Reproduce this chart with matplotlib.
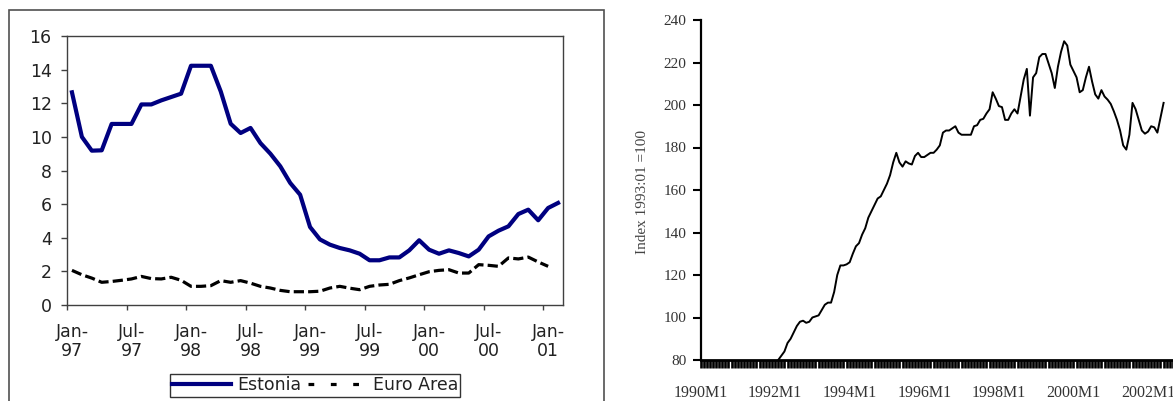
import numpy as np
import matplotlib
matplotlib.use("Agg")
import matplotlib.pyplot as plt
from matplotlib.patches import Rectangle
from matplotlib.lines import Line2D

# left panel: inflation, monthly Jan-97 .. Feb-01
estonia = [12.65, 10.0, 9.18, 9.2, 10.77, 10.77, 10.77, 11.93, 11.93, 12.17,
           12.37, 12.57, 14.23, 14.23, 14.23, 12.7, 10.78, 10.23, 10.53, 9.63,
           9.0, 8.25, 7.26, 6.56, 4.64, 3.9, 3.59, 3.39, 3.25, 3.05,
           2.66, 2.66, 2.83, 2.83, 3.25, 3.85, 3.29, 3.05, 3.25, 3.09,
           2.89, 3.29, 4.08, 4.42, 4.68, 5.41, 5.67, 5.04, 5.77, 6.07]
euro_area = [2.06, 1.8, 1.6, 1.35, 1.4, 1.47, 1.55, 1.7, 1.57, 1.55,
             1.65, 1.47, 1.11, 1.11, 1.15, 1.45, 1.35, 1.45, 1.3, 1.11,
             1.01, 0.87, 0.79, 0.79, 0.79, 0.82, 1.01, 1.11, 1.0, 0.91,
             1.11, 1.19, 1.23, 1.45, 1.61, 1.8, 1.98, 2.06, 2.1, 1.9,
             1.9, 2.4, 2.36, 2.3, 2.8, 2.74, 2.85, 2.56, 2.3]
n_months = 50
left_labels = ["Jan-\n97", "Jul-\n97", "Jan-\n98", "Jul-\n98", "Jan-\n99",
               "Jul-\n99", "Jan-\n00", "Jul-\n00", "Jan-\n01"]

# right panel: index 1993:01=100, monthly from 1992M2
index_start = 25  # months after 1990M1
index_values = [80, 82, 84, 88, 90, 93, 96, 98, 98.5, 97.5,
                98, 100, 100.5, 101, 103.5, 106, 107, 107, 112, 120,
                124.5, 124.5, 125, 126, 130, 133.5, 135, 139, 142, 147,
                150, 153, 156, 157, 160, 163, 167, 173, 177.5, 173,
                171, 173.5, 172.5, 172, 176, 177.5, 175.5, 175.5, 176.5, 177.5,
                177.5, 179, 181, 187, 188, 188, 189, 190, 187, 186,
                186, 186, 186, 190, 190.5, 193, 193.5, 196, 198, 206,
                203, 199.5, 199, 193, 193, 196, 198, 196, 204, 212,
                217, 195, 213, 215, 222.5, 224, 224, 219.5, 215, 208,
                218, 225, 230, 228, 219, 216, 213, 206, 207, 213,
                218, 211, 205, 203, 207, 204, 202.5, 200.5, 197, 193,
                188, 181, 179, 186, 201, 198, 193, 188, 186.5, 187.5,
                190, 189.5, 187, 194, 201]
right_labels = ["1990M1", "1992M1", "1994M1", "1996M1", "1998M1", "2000M1", "2002M1"]

W, H = 1173, 401
fig = plt.figure(figsize=(W / 100, H / 100), dpi=100)

# frame round the left chart
fig.patches.append(Rectangle((9 / W, -0.05), 595 / W, 1 - 10 / H + 0.05,
                             transform=fig.transFigure, fill=False,
                             edgecolor="#505050", linewidth=1.2))

sans = ["DejaVu Sans"]
serif = ["Liberation Serif", "DejaVu Serif"]
fs = 12.5

ax = fig.add_axes([67 / W, 1 - 305 / H, 496 / W, 269 / H])
ax.plot(range(len(estonia)), estonia, color="#000080", lw=3.0,
        solid_joinstyle="round")
ax.plot(range(len(euro_area)), euro_area, color="black", lw=2.3,
        dashes=(3.2, 1.3))
ax.set_xlim(-0.5, n_months - 0.5)
ax.set_ylim(0, 16)
ax.set_yticks(range(0, 17, 2))
ax.set_xticks(range(0, n_months, 6))
ax.set_xticklabels(left_labels, fontsize=fs, family=sans, linespacing=1.05,
                   color="#222222")
ax.set_xticks(np.arange(-0.5, n_months - 1, 6), minor=True)
ax.tick_params(axis="x", which="major", length=0, pad=13)
ax.tick_params(axis="x", which="minor", length=3.8, width=1, color="#404040")
ax.tick_params(axis="y", length=4, width=1, color="#404040", pad=7,
               labelsize=fs, labelcolor="#222222")
for t in ax.get_yticklabels():
    t.set_family(sans)
for s in ax.spines.values():
    s.set_color("#404040")
    s.set_linewidth(1)

handles = [Line2D([], [], color="#000080", lw=3.0),
           Line2D([], [], color="black", lw=2.3, dashes=(1.8, 5.2), dash_capstyle="butt")]
leg = fig.legend(handles, ["Estonia", "Euro Area"], loc="center",
                 bbox_to_anchor=(315 / W, 1 - 385.5 / H), ncol=2,
                 prop={"family": sans, "size": fs}, frameon=True, fancybox=False,
                 handlelength=3.4, handletextpad=0.35, columnspacing=0.4,
                 borderpad=0.12, borderaxespad=0)
leg.get_frame().set_edgecolor("black")
leg.get_frame().set_linewidth(1)
for t in leg.get_texts():
    t.set_color("#222222")

# right chart, runs past the right edge of the picture
x_end = 156
ax2 = fig.add_axes([700.5 / W, 1 - 360 / H, (3.108 * x_end) / W, 340 / H])
xs = np.arange(index_start, index_start + len(index_values))
ax2.plot(xs, index_values, color="black", lw=1.4)
ax2.set_xlim(0, x_end)
ax2.set_ylim(80, 240)
ax2.spines["top"].set_visible(False)
ax2.spines["right"].set_visible(False)
ax2.spines["left"].set_linewidth(1.6)
ax2.spines["bottom"].set_linewidth(2.0)
ax2.set_yticks(range(80, 241, 20))
ax2.set_xticks(range(0, x_end, 24))
ax2.set_xticklabels(right_labels, family=serif, fontsize=11.5, color="#333333")
ax2.set_xticks(range(0, x_end + 1), minor=True)
ax2.tick_params(axis="x", which="both", length=6, width=1.9, direction="out", pad=12)
ax2.tick_params(axis="y", length=5.5, width=1.5, pad=4.5, labelsize=11,
                labelcolor="#333333")
for t in ax2.get_yticklabels():
    t.set_family(serif)
fig.text(642 / W, 1 - 192 / H, "Index 1993:01 =100", rotation=90, ha="center",
         va="center", family=serif, fontsize=11, color="#444444")

fig.savefig("out.png", dpi=100)
